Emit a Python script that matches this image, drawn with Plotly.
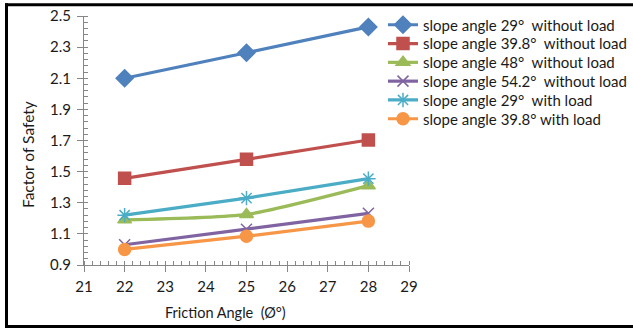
import plotly.graph_objects as go

friction_angle = [22, 25, 28]
fs_29_no_load = [2.10, 2.264, 2.43]
fs_398_no_load = [1.457, 1.579, 1.703]
fs_48_no_load = [1.19, 1.225, 1.41]
fs_542_no_load = [1.03, 1.13, 1.232]
fs_29_load = [1.22, 1.33, 1.455]
fs_398_load = [1.0, 1.085, 1.182]

NB = "\u00a0"
series_names = [
    f"slope angle 29°{NB} without load",
    f"slope angle 39.8°{NB} without load",
    f"slope angle 48°{NB} without load",
    f"slope angle 54.2°{NB} without load",
    f"slope angle 29°{NB} with load",
    "slope angle 39.8° with load",
]
series_values = [fs_29_no_load, fs_398_no_load, fs_48_no_load, fs_542_no_load, fs_29_load, fs_398_load]
colors = ["#4F81BD", "#C0504D", "#9BBB59", "#8064A2", "#4BACC6", "#F79646"]
symbols = ["diamond", "square", "triangle-up", "x-thin-open", "asterisk-open", "circle"]
sizes = [13, 12, 12, 11, 12, 12]

x_ticks = list(range(21, 30))
y_ticks = [0.9, 1.1, 1.3, 1.5, 1.7, 1.9, 2.1, 2.3, 2.5]

FONT = "Lato, 'Liberation Sans', sans-serif"
TXT = "#1a1a1a"

L, R, T, B = 84, 224, 16, 63
W, H = 633, 328
pw, ph = W - L - R, H - T - B


def px_x(p):
    return (p - L) / pw


def px_y(p):
    return (H - B - p) / ph


legend_rows = [25, 43.8, 62.6, 81.4, 100.2, 119]

fig = go.Figure()
legends = {}
for i, (name, vals, c, s, sz) in enumerate(zip(series_names, series_values, colors, symbols, sizes)):
    lg = "legend" if i == 0 else f"legend{i + 1}"
    fig.add_trace(go.Scatter(
        x=friction_angle, y=vals, name=name, mode="lines+markers",
        line=dict(color=c, width=3.2, shape="spline", smoothing=0.6),
        marker=dict(symbol=s, size=sz, color=c, line=dict(color=c, width=1.5)),
        legend=lg,
    ))
    legends[lg] = dict(x=px_x(383), y=px_y(legend_rows[i]), xanchor="left", yanchor="middle",
                       font=dict(family=FONT, size=15, color=TXT),
                       bgcolor="rgba(0,0,0,0)", itemwidth=30, borderwidth=0)

axis_common = dict(
    showgrid=False, zeroline=False, showline=True, linecolor="#868686", linewidth=1,
    ticks="outside", ticklen=6, tickcolor="#868686", tickwidth=1,
    tickfont=dict(family=FONT, size=15, color=TXT), automargin=False,
)

frame = [
    dict(type="line", xref="paper", yref="paper", x0=px_x(6.5), x1=px_x(6.5),
         y0=px_y(328), y1=px_y(3.2), line=dict(color="black", width=3), layer="above"),
    dict(type="line", xref="paper", yref="paper", x0=px_x(5), x1=px_x(W + 5),
         y0=px_y(4.7), y1=px_y(4.7), line=dict(color="black", width=3), layer="above"),
    dict(type="line", xref="paper", yref="paper", x0=px_x(5), x1=px_x(W + 5),
         y0=px_y(326.5), y1=px_y(326.5), line=dict(color="black", width=3), layer="above"),
]

fig.update_layout(
    width=W, height=H,
    margin=dict(l=L, r=R, t=T, b=B, autoexpand=False),
    paper_bgcolor="white", plot_bgcolor="white",
    font=dict(family=FONT, size=15, color=TXT),
    xaxis=dict(range=[21, 29], tickvals=x_ticks, ticktext=[str(v) for v in x_ticks],
               ticklabelstandoff=2,
               minor=dict(ticks="inside", ticklen=4, dtick=0.2, tick0=21, tickcolor="#868686"),
               **axis_common),
    yaxis=dict(range=[0.9, 2.5], tickvals=y_ticks, ticktext=[f"{v:.1f}" for v in y_ticks],
               ticklabelstandoff=3,
               minor=dict(ticks="inside", ticklen=4, dtick=0.04, tick0=0.9, tickcolor="#868686"),
               **axis_common),
    showlegend=True,
    annotations=[
        dict(text="Factor of Safety", xref="paper", yref="paper", x=px_x(28), y=px_y(155),
             xanchor="center", yanchor="middle",
             textangle=-90, showarrow=False, font=dict(family=FONT, size=15.5, color=TXT)),
        dict(text=f"Friction Angle {NB}(Ø°)", xref="paper", yref="paper", x=px_x(225), y=px_y(312),
             xanchor="center", yanchor="middle",
             showarrow=False, font=dict(family=FONT, size=14.5, color=TXT)),
    ],
    shapes=frame,
)
fig.update_layout(**legends)

fig.write_html("out.html")
